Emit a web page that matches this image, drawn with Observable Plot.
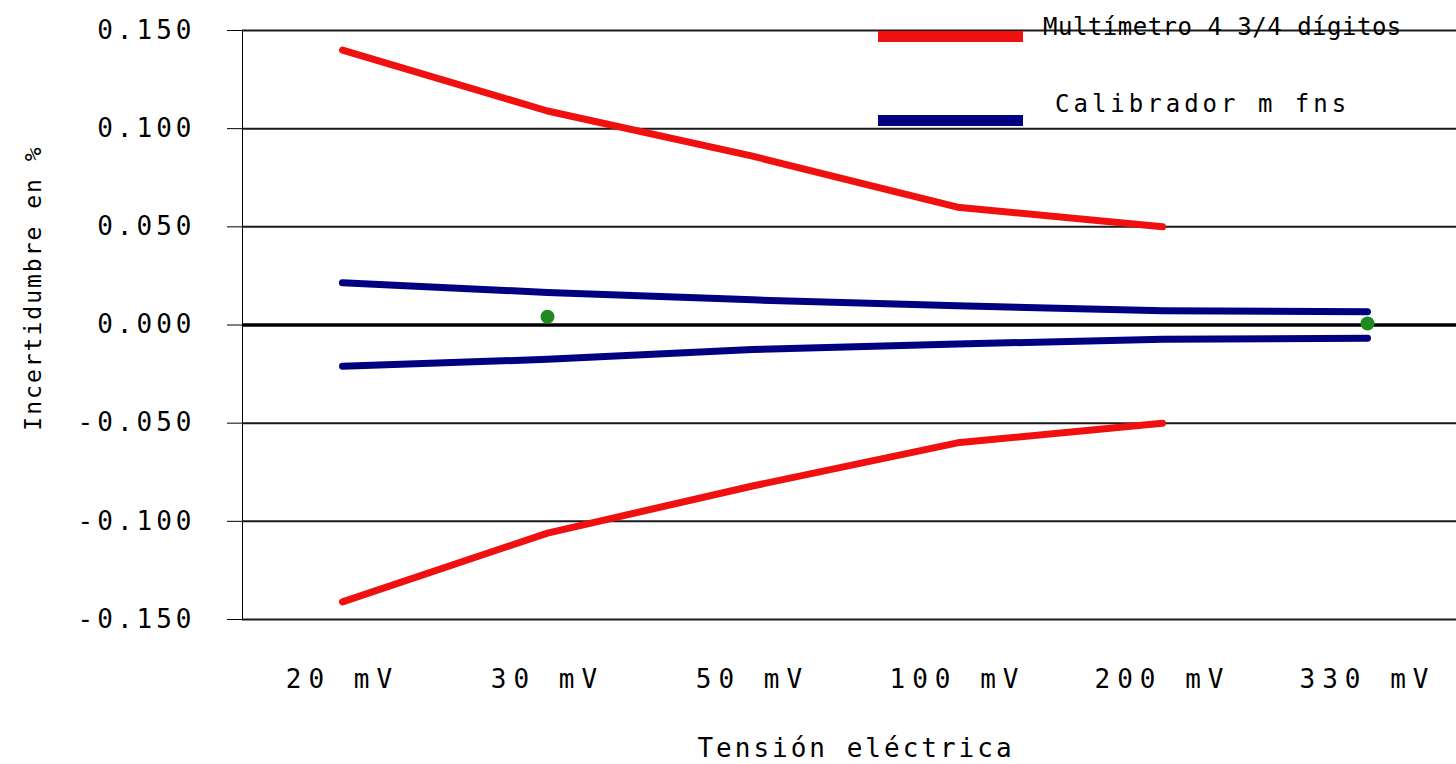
<!DOCTYPE html>
<html>
<head>
<meta charset="utf-8">
<script src="https://cdn.jsdelivr.net/npm/d3@7"></script>
<script src="https://cdn.jsdelivr.net/npm/@observablehq/plot@0.6"></script>
<style>
  html, body { margin: 0; padding: 0; background: #fff; }
  #wrap { position: relative; width: 1456px; height: 764px; overflow: hidden; font-family: "DejaVu Sans Mono", monospace; color: #000; }
  #wrap svg g[aria-label="x-axis tick label"] { letter-spacing: 7px; }
  #wrap svg g[aria-label="y-axis tick label"] { letter-spacing: 4px; }
  .lbl { position: absolute; white-space: nowrap; line-height: 1; }
  .bar { position: absolute; }
</style>
</head>
<body>
<div id="wrap"></div>
<script>
// ---- data ----
const categories = ["20 mV", "30 mV", "50 mV", "100 mV", "200 mV", "330 mV"];
const redCats = ["20 mV", "30 mV", "50 mV", "100 mV", "200 mV"];
const multimetroUpper = [0.140, 0.109, 0.086, 0.060, 0.050];
const multimetroLower = [-0.141, -0.106, -0.082, -0.060, -0.050];
const calibradorUpper = [0.0215, 0.0166, 0.0128, 0.0098, 0.0073, 0.0068];
const calibradorLower = [-0.0210, -0.0175, -0.0125, -0.0097, -0.0072, -0.0068];
const pointCats = ["30 mV", "330 mV"];
const pointValues = [0.0042, 0.0008];
const yTicks = [-0.15, -0.1, -0.05, 0, 0.05, 0.1, 0.15];
const gridValues = [-0.15, -0.1, -0.05, 0.05, 0.1, 0.15];

const legendItems = [
  {label: "Multímetro 4 3/4 dígitos", color: "#f01010"},
  {label: "Calibrador m fns", color: "#000080"}
];

const mk = (cats, vals) => cats.map((c, i) => ({cat: c, v: vals[i]}));

const chart = Plot.plot({
  width: 1456,
  height: 764,
  marginLeft: 242,
  marginRight: 0,
  marginTop: 30,
  marginBottom: 145,
  style: {fontFamily: "DejaVu Sans Mono, monospace", fontSize: "26px", color: "#000", background: "transparent", overflow: "visible"},
  x: {type: "point", domain: categories, range: [341, 1367], padding: 0, tickSize: 0, tickPadding: 50, label: null},
  y: {domain: [-0.15, 0.15], range: [619, 30], ticks: yTicks, tickFormat: d => d.toFixed(3), tickSize: 15, tickPadding: 32, line: true, label: null},
  marks: [
    Plot.ruleY(gridValues, {stroke: "#1a1a1a", strokeWidth: 2}),
    Plot.ruleY([0], {stroke: "#000", strokeWidth: 3.5}),
    Plot.line(mk(redCats, multimetroUpper), {x: "cat", y: "v", stroke: legendItems[0].color, strokeWidth: 7}),
    Plot.line(mk(redCats, multimetroLower), {x: "cat", y: "v", stroke: legendItems[0].color, strokeWidth: 7}),
    Plot.line(mk(categories, calibradorUpper), {x: "cat", y: "v", stroke: legendItems[1].color, strokeWidth: 7}),
    Plot.line(mk(categories, calibradorLower), {x: "cat", y: "v", stroke: legendItems[1].color, strokeWidth: 7}),
    Plot.dot(mk(pointCats, pointValues), {x: "cat", y: "v", r: 7, fill: "#1f8a1f", stroke: "none"})
  ]
});

const wrap = document.getElementById("wrap");
wrap.appendChild(chart);

// Axis titles
const yTitle = document.createElement("div");
yTitle.className = "lbl";
yTitle.textContent = "Incertidumbre en %";
yTitle.style.cssText = "font-size:23px;letter-spacing:2px;left:33px;top:288px;transform:translate(-50%,-50%) rotate(-90deg);";
wrap.appendChild(yTitle);

const xTitle = document.createElement("div");
xTitle.className = "lbl";
xTitle.textContent = "Tensión eléctrica";
xTitle.style.cssText = "font-size:26px;letter-spacing:3px;left:856px;top:748px;transform:translate(-50%,-50%);";
wrap.appendChild(xTitle);

// Legend (inside plot, top right)
const legendTops = [36, 120];
const textTops = [27, 104];
const textLefts = [1043, 1055];
const textSpacing = [0.5, 4];
legendItems.forEach((it, i) => {
  const b = document.createElement("div");
  b.className = "bar";
  b.style.cssText = `left:878px;top:${legendTops[i] - 5}px;width:145px;height:11px;background:${it.color};`;
  wrap.appendChild(b);
  const t = document.createElement("div");
  t.className = "lbl";
  t.textContent = it.label;
  t.style.cssText = `font-size:24px;letter-spacing:${textSpacing[i]}px;left:${textLefts[i]}px;top:${textTops[i]}px;transform:translateY(-50%);`;
  wrap.appendChild(t);
});
</script>
</body>
</html>
